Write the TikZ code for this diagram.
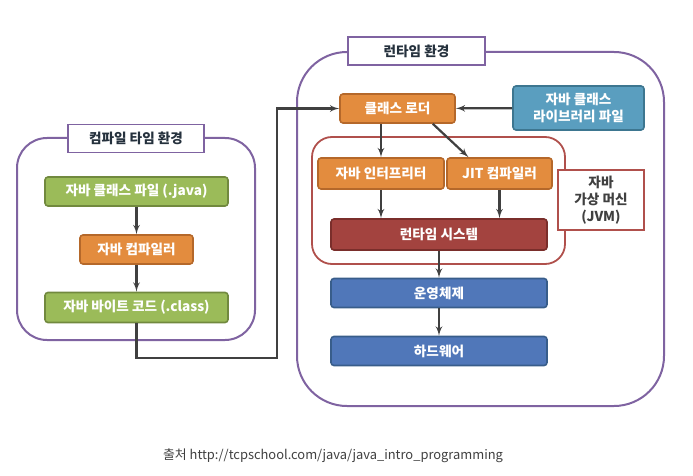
\documentclass[tikz,border=0pt]{standalone}
\usepackage{fontspec}
\setmainfont{Noto Sans CJK KR}
\usetikzlibrary{shapes, arrows, positioning}
\definecolor{envpurple}{HTML}{7F63A1}
\definecolor{jvmred}{HTML}{B0504C}
\definecolor{srcgreen}{HTML}{9BBB59}
\definecolor{srcgreenline}{HTML}{71893E}
\definecolor{toolorange}{HTML}{E38C3E}
\definecolor{toolorangeline}{HTML}{B5682A}
\definecolor{libteal}{HTML}{5A9EBF}
\definecolor{libtealline}{HTML}{3D7690}
\definecolor{rtred}{HTML}{A3433F}
\definecolor{rtredline}{HTML}{7A2E2B}
\definecolor{sysblue}{HTML}{5077B9}
\definecolor{sysblueline}{HTML}{385D8A}
\definecolor{arrowgray}{HTML}{404040}
\definecolor{titletext}{HTML}{25313D}
\tikzstyle{block} = [rectangle, draw, line width=1.6pt, text=white, font=\fontsize{13.6}{16.5}\selectfont\bfseries,
    text centered, rounded corners=3pt, minimum height=29pt, inner sep=0pt]
\tikzstyle{green} = [block, fill=srcgreen, draw=srcgreenline, minimum width=183pt]
\tikzstyle{orange} = [block, fill=toolorange, draw=toolorangeline]
\tikzstyle{system} = [block, fill=sysblue, draw=sysblueline, minimum width=216pt]
\tikzstyle{title} = [rectangle, draw=envpurple, fill=white, line width=1.8pt, text=titletext,
    font=\fontsize{13.6}{15}\selectfont\bfseries, minimum height=28pt, inner sep=0pt]
\tikzstyle{env} = [draw=envpurple, line width=2pt]
\tikzstyle{line} = [draw=arrowgray, line width=2.2pt, -latex']

\begin{document}
\begin{tikzpicture}[x=1pt, y=-1pt, node distance=58pt]
        \useasboundingbox (0,0) rectangle (693,476);
        % Environments
        \draw [env, rounded corners=30pt] (17,138) rectangle (255,340);
        \draw [env, rounded corners=50pt] (297,52) rectangle (664,406);
        \draw [draw=jvmred, line width=1.8pt, rounded corners=20pt] (312,137) rectangle (565,264);
        \node [title, minimum width=136pt] (compiletime) at (136,138.5) {컴파일 타임 환경};
        \node [title, minimum width=137pt] (runtimeenv) at (416.5,51) {런타임 환경};
        % Compile time nodes
        \node [green] (javafile) at (136.5,191.5) {자바 클래스 파일 (.java)};
        \node [orange, minimum width=113pt, below of=javafile] (javac) {자바 컴파일러};
        \node [green, minimum height=30pt, below of=javac] (bytecode) {자바 바이트 코드 (.class)};
        % Runtime nodes
        \node [orange, minimum width=115pt] (loader) at (397.5,108.5) {클래스 로더};
        \node [block, fill=libteal, draw=libtealline, minimum width=131pt, minimum height=44pt,
            align=center] (library) at (578.5,108) {자바 클래스\\라이브러리 파일};
        \node [orange, minimum width=126pt, minimum height=31pt] (interp) at (381,173.5) {자바 인터프리터};
        \node [orange, minimum width=105pt, minimum height=31pt] (jit) at (499.5,173.5) {JIT 컴파일러};
        \node [rectangle, draw=jvmred, fill=white, line width=1.8pt, text=arrowgray, align=center,
            font=\fontsize{13.6}{17}\selectfont\bfseries, minimum width=86pt, minimum height=60pt,
            inner sep=0pt] (jvm) at (601,200) {자바\\가상 머신\\(JVM)};
        \node [block, fill=rtred, draw=rtredline, minimum width=216pt, minimum height=31pt] (rtsystem) at (439,234.5) {런타임 시스템};
        \node [system] (os) at (439,293) {운영체제};
        \node [system, below of=os] (hardware) {하드웨어};
        % Caption
        \node [text=arrowgray, font=\fontsize{12.9}{14}\selectfont] (source) at (333,456) {출처 http://tcpschool.com/java/java\_intro\_programming};
        % Draw edges
        \coordinate (turn) at (277,358);
        \path [line] (javafile) -- (javac);
        \path [line] (javac) -- (bytecode);
        \path [line, rounded corners=0pt] (bytecode.south) |- (turn) |- (loader.west);
        \path [line] (library) -- (loader);
        \path [line] (interp.north |- loader.south) -- (interp.north);
        \path [line] ([xshift=-23pt]loader.south east) -- ([xshift=-31pt]jit.north);
        \path [line] (interp.south) -- (interp.south |- rtsystem.north);
        \path [line] (jit.south) -- (jit.south |- rtsystem.north);
        \path [line] (rtsystem) -- (os);
        \path [line] (os) -- (hardware);
    \end{tikzpicture}
\end{document}
